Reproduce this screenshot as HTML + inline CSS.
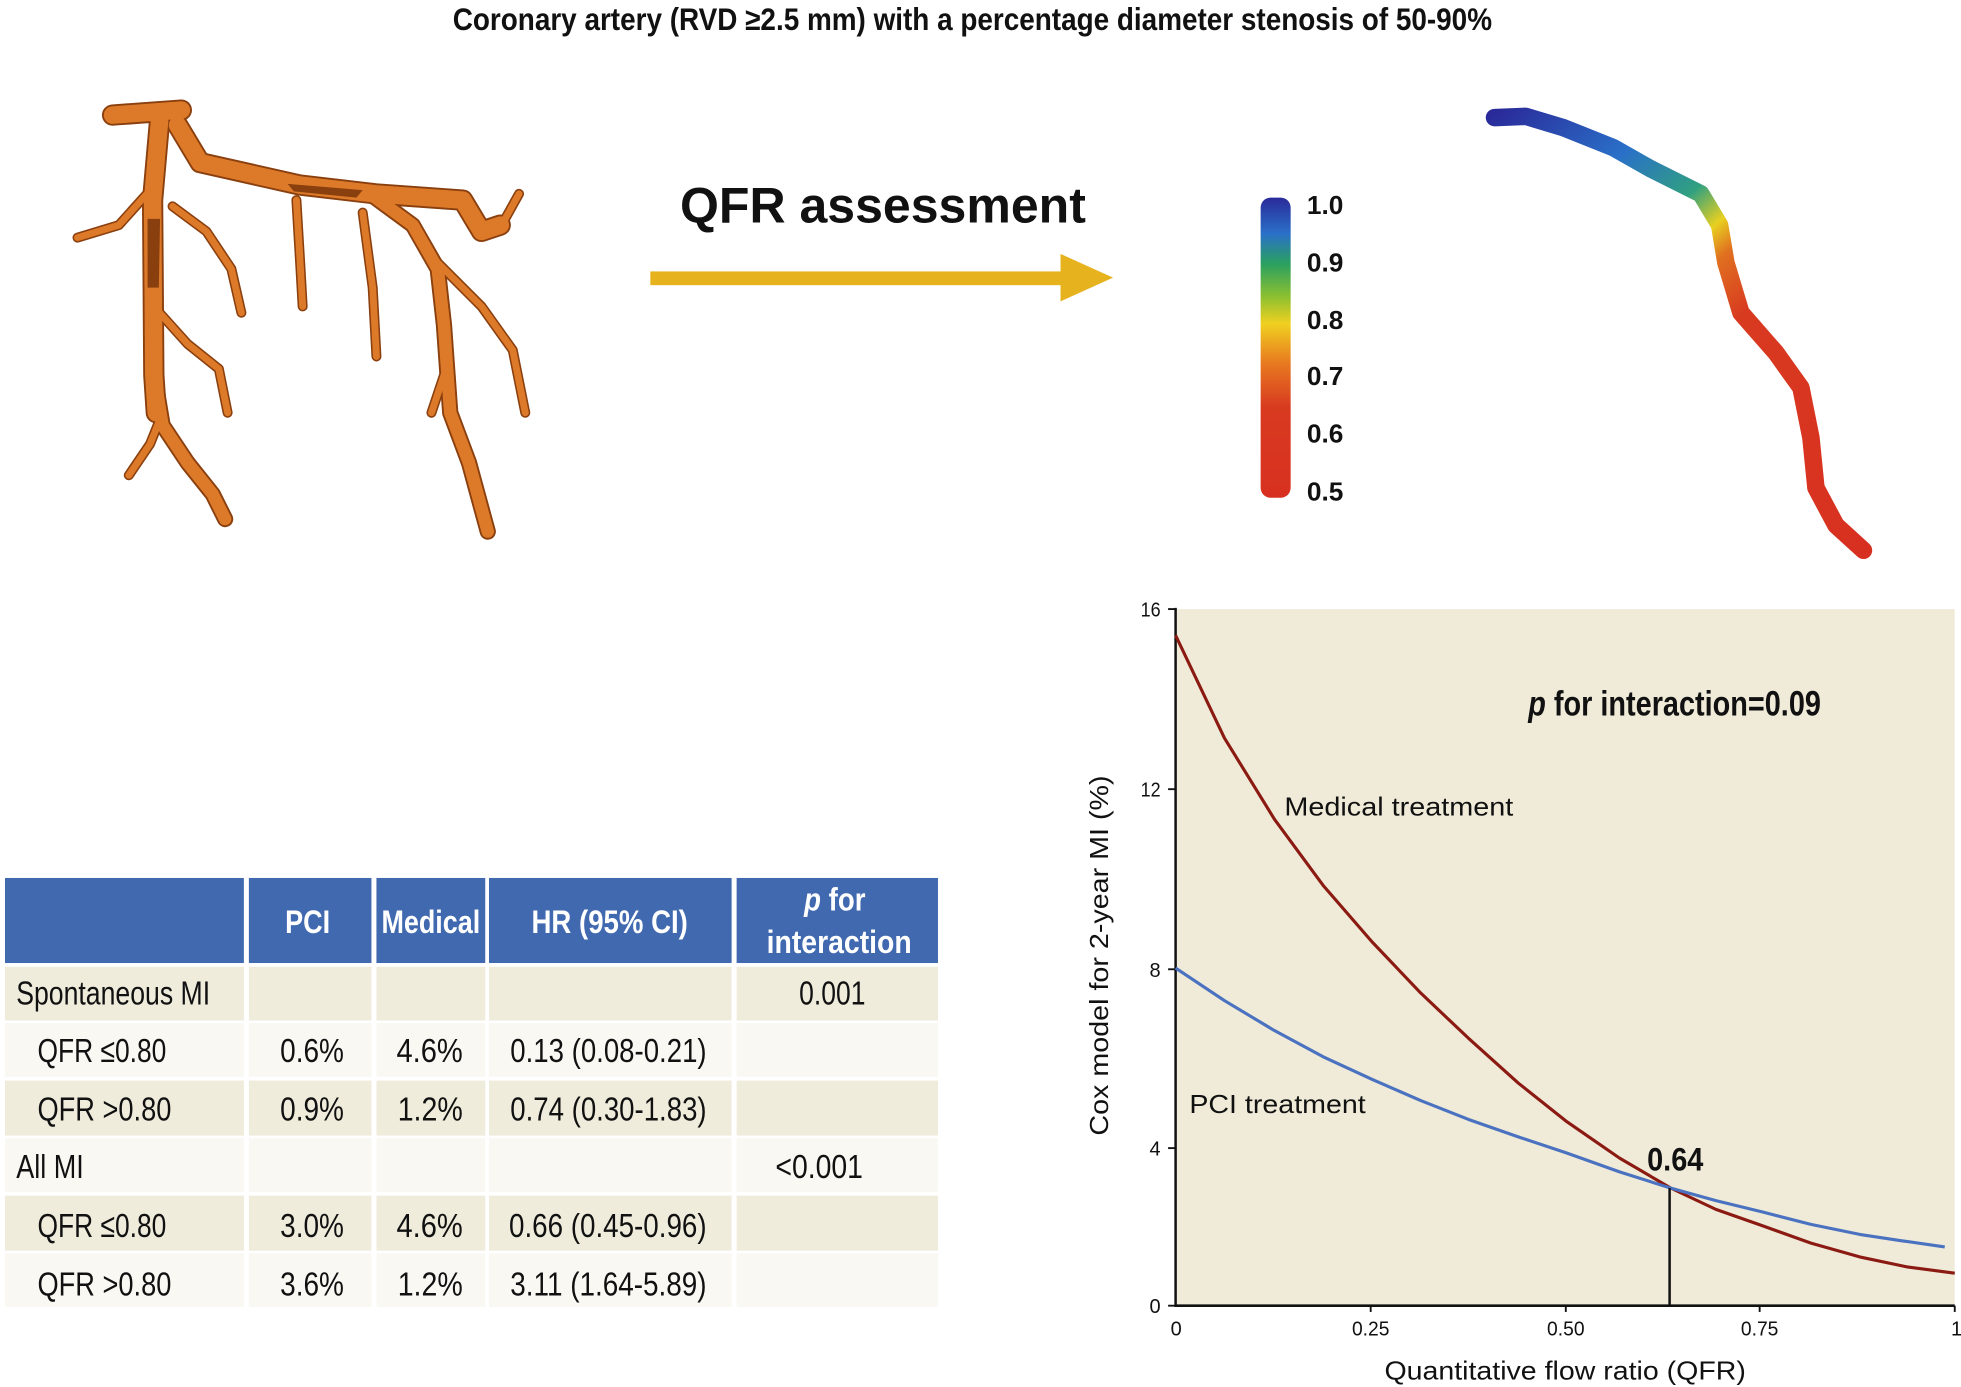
<!DOCTYPE html>
<html><head><meta charset="utf-8"><style>
html,body{margin:0;padding:0;background:#fff;}
svg{display:block;}
.n{font-family:"Liberation Sans",sans-serif;}
.s{font-family:"Liberation Sans","DejaVu Sans",sans-serif;}
</style></head><body>
<svg width="1961" height="1387" viewBox="0 0 1568 1109" xmlns="http://www.w3.org/2000/svg">
<rect width="1568" height="1109" fill="#fff"/>
<text x="362" y="24" textLength="831" lengthAdjust="spacingAndGlyphs" class="n" font-size="25" font-weight="bold" fill="#111">Coronary artery (RVD ≥2.5 mm) with a percentage diameter stenosis of 50-90%</text>

<!-- artery tree -->
<g fill="none" stroke="#8a3f0e" stroke-linecap="round" stroke-linejoin="round">
<g stroke-width="17"><path d="M90,92 L145,88 M128,92 L122,160 L123,300 L125,330"/><path d="M142,100 L160,130 L240,148 L300,155 L370,160 L385,185 L400,180"/></g>
<g stroke-width="13"><path d="M300,158 L330,180 L350,215 L355,260 L360,330 L375,370 L390,425"/><path d="M125,310 L130,340 L150,370 L170,395 L180,415"/></g>
<g stroke-width="8"><path d="M122,150 L95,180 L62,190"/><path d="M138,165 L165,185 L185,215 L193,250"/><path d="M237,160 L240,210 L242,245"/><path d="M290,170 L298,230 L301,285"/><path d="M123,245 L150,275 L175,295 L182,330"/><path d="M130,330 L120,355 L103,380"/><path d="M350,210 L385,245 L410,280 L420,330"/><path d="M355,300 L345,330"/><path d="M400,182 L415,155"/></g>
</g>
<g fill="none" stroke="#dd7a2a" stroke-linecap="round" stroke-linejoin="round">
<g stroke-width="14"><path d="M90,92 L145,88 M128,92 L122,160 L123,300 L125,330"/><path d="M142,100 L160,130 L240,148 L300,155 L370,160 L385,185 L400,180"/></g>
<g stroke-width="10"><path d="M300,158 L330,180 L350,215 L355,260 L360,330 L375,370 L390,425"/><path d="M125,310 L130,340 L150,370 L170,395 L180,415"/></g>
<g stroke-width="5.5"><path d="M122,150 L95,180 L62,190"/><path d="M138,165 L165,185 L185,215 L193,250"/><path d="M237,160 L240,210 L242,245"/><path d="M290,170 L298,230 L301,285"/><path d="M123,245 L150,275 L175,295 L182,330"/><path d="M130,330 L120,355 L103,380"/><path d="M350,210 L385,245 L410,280 L420,330"/><path d="M355,300 L345,330"/><path d="M400,182 L415,155"/></g>
</g>
<path d="M230,147 L290,152 L285,158 L235,153Z" fill="#8a3f0e"/>
<path d="M118,175 L128,175 L127,230 L118,230Z" fill="#8a3f0e"/>

<text x="706" y="178" text-anchor="middle" class="s" font-size="40" font-weight="bold" fill="#111">QFR assessment</text>
<rect x="520" y="217" width="330" height="11" fill="#e6b31e"/>
<polygon points="848,203 890,222 848,241" fill="#e6b31e"/>

<defs>
<linearGradient id="cb" x1="0" y1="0" x2="0" y2="1">
<stop offset="0" stop-color="#2a2a9a"/><stop offset="0.12" stop-color="#2a70c8"/><stop offset="0.22" stop-color="#2aa060"/><stop offset="0.33" stop-color="#8cc030"/><stop offset="0.42" stop-color="#f0d020"/><stop offset="0.55" stop-color="#e87a20"/><stop offset="0.7" stop-color="#d83a20"/><stop offset="1" stop-color="#d83020"/>
</linearGradient>
<linearGradient id="vg" x1="1190" y1="95" x2="1490" y2="440" gradientUnits="userSpaceOnUse">
<stop offset="0" stop-color="#2a2a9a"/><stop offset="0.2" stop-color="#2a70c8"/><stop offset="0.33" stop-color="#30a080"/><stop offset="0.4" stop-color="#e8d020"/><stop offset="0.45" stop-color="#e07020"/><stop offset="0.55" stop-color="#d83a20"/><stop offset="1" stop-color="#d83020"/>
</linearGradient>
</defs>
<rect x="1008" y="158" width="24" height="240" rx="8" fill="url(#cb)"/>
<g class="n" font-size="21" font-weight="bold" fill="#111">
<text x="1045" y="171">1.0</text><text x="1045" y="217">0.9</text><text x="1045" y="263">0.8</text><text x="1045" y="308">0.7</text><text x="1045" y="354">0.6</text><text x="1045" y="400">0.5</text>
</g>
<path d="M1195,94 L1220,93 L1250,102 L1290,118 L1320,135 L1360,155 L1375,180 L1380,210 L1392,250 L1420,282 L1440,310 L1448,350 L1452,390 L1468,420 L1490,440" fill="none" stroke="url(#vg)" stroke-width="14" stroke-linecap="round" stroke-linejoin="round"/>

<!-- table -->
<g>
<rect x="4" y="702" width="191" height="68" fill="#4169b0"/>
<rect x="199" y="702" width="98" height="68" fill="#4169b0"/>
<rect x="301" y="702" width="87" height="68" fill="#4169b0"/>
<rect x="391" y="702" width="194" height="68" fill="#4169b0"/>
<rect x="589" y="702" width="161" height="68" fill="#4169b0"/>
<g fill="#efecdc">
<rect x="4" y="773" width="746" height="43"/><rect x="4" y="864" width="746" height="44"/><rect x="4" y="956" width="746" height="44"/>
</g>
<g fill="#f9f8f3">
<rect x="4" y="818" width="746" height="43"/><rect x="4" y="910" width="746" height="43"/><rect x="4" y="1002" width="746" height="43"/>
</g>
<g fill="#fff">
<rect x="195" y="770" width="4" height="276"/><rect x="297" y="770" width="4" height="276"/><rect x="388" y="770" width="3" height="276"/><rect x="585" y="770" width="4" height="276"/>
</g>
<g class="n" font-size="26" font-weight="bold" fill="#fff" lengthAdjust="spacingAndGlyphs">
<text x="228" y="746" textLength="36" lengthAdjust="spacingAndGlyphs">PCI</text>
<text x="305" y="746" textLength="79" lengthAdjust="spacingAndGlyphs">Medical</text>
<text x="425" y="746" textLength="125" lengthAdjust="spacingAndGlyphs">HR (95% CI)</text>
<text x="643" y="728" textLength="49" lengthAdjust="spacingAndGlyphs"><tspan font-style="italic">p</tspan> for</text>
<text x="613" y="762" textLength="116" lengthAdjust="spacingAndGlyphs">interaction</text>
</g>
<g class="n" font-size="27" fill="#111">
<text x="13" y="803" textLength="155" lengthAdjust="spacingAndGlyphs">Spontaneous MI</text>
<text x="30" y="849" textLength="103" lengthAdjust="spacingAndGlyphs">QFR ≤0.80</text>
<text x="30" y="896" textLength="107" lengthAdjust="spacingAndGlyphs">QFR &gt;0.80</text>
<text x="13" y="942" textLength="54" lengthAdjust="spacingAndGlyphs">All MI</text>
<text x="30" y="989" textLength="103" lengthAdjust="spacingAndGlyphs">QFR ≤0.80</text>
<text x="30" y="1036" textLength="107" lengthAdjust="spacingAndGlyphs">QFR &gt;0.80</text>
<text x="639" y="803" textLength="53" lengthAdjust="spacingAndGlyphs">0.001</text>
<text x="620" y="942" textLength="70" lengthAdjust="spacingAndGlyphs">&lt;0.001</text>
<text x="224" y="849" textLength="51" lengthAdjust="spacingAndGlyphs">0.6%</text>
<text x="317" y="849" textLength="53" lengthAdjust="spacingAndGlyphs">4.6%</text>
<text x="408" y="849" textLength="157" lengthAdjust="spacingAndGlyphs">0.13 (0.08-0.21)</text>
<text x="224" y="896" textLength="51" lengthAdjust="spacingAndGlyphs">0.9%</text>
<text x="318" y="896" textLength="52" lengthAdjust="spacingAndGlyphs">1.2%</text>
<text x="408" y="896" textLength="157" lengthAdjust="spacingAndGlyphs">0.74 (0.30-1.83)</text>
<text x="224" y="989" textLength="51" lengthAdjust="spacingAndGlyphs">3.0%</text>
<text x="317" y="989" textLength="53" lengthAdjust="spacingAndGlyphs">4.6%</text>
<text x="407" y="989" textLength="158" lengthAdjust="spacingAndGlyphs">0.66 (0.45-0.96)</text>
<text x="224" y="1036" textLength="51" lengthAdjust="spacingAndGlyphs">3.6%</text>
<text x="318" y="1036" textLength="52" lengthAdjust="spacingAndGlyphs">1.2%</text>
<text x="408" y="1036" textLength="157" lengthAdjust="spacingAndGlyphs">3.11 (1.64-5.89)</text>
</g>
</g>

<!-- chart -->
<rect x="940" y="487" width="623" height="557" fill="#f0ebd8"/>
<path d="M940,486 V1044 H1563" fill="none" stroke="#111" stroke-width="2"/>
<g stroke="#111" stroke-width="1.5">
<line x1="934" y1="487" x2="940" y2="487"/><line x1="934" y1="631" x2="940" y2="631"/><line x1="934" y1="775" x2="940" y2="775"/><line x1="934" y1="918" x2="940" y2="918"/><line x1="934" y1="1044" x2="940" y2="1044"/>
<line x1="1096" y1="1044" x2="1096" y2="1049"/><line x1="1252" y1="1044" x2="1252" y2="1049"/><line x1="1407" y1="1044" x2="1407" y2="1049"/><line x1="1563" y1="1044" x2="1563" y2="1049"/>
</g>
<g class="n" font-size="16" fill="#111" text-anchor="end">
<text x="928" y="493" textLength="16" lengthAdjust="spacingAndGlyphs">16</text><text x="928" y="637" textLength="16" lengthAdjust="spacingAndGlyphs">12</text><text x="928" y="781">8</text><text x="928" y="924">4</text><text x="928" y="1050">0</text>
</g>
<g class="n" font-size="16" fill="#111">
<text x="936" y="1068">0</text>
<text x="1081" y="1068" textLength="30" lengthAdjust="spacingAndGlyphs">0.25</text>
<text x="1237" y="1068" textLength="30" lengthAdjust="spacingAndGlyphs">0.50</text>
<text x="1392" y="1068" textLength="30" lengthAdjust="spacingAndGlyphs">0.75</text>
<text x="1560" y="1068">1</text>
</g>
<text x="1107" y="1103" textLength="289" lengthAdjust="spacingAndGlyphs" class="s" font-size="21" fill="#111">Quantitative flow ratio (QFR)</text>
<text transform="translate(886,908) rotate(-90)" textLength="288" lengthAdjust="spacingAndGlyphs" class="s" font-size="21" fill="#111">Cox model for 2-year MI (%)</text>
<polyline points="940,508 979,590 1019,655 1058,708 1097,753 1136,794 1174,830 1214,866 1253,897 1295,926 1336,950 1372,967 1409,980 1448,994 1487,1005 1525,1013 1563,1018" fill="none" stroke="#8b1a12" stroke-width="2.5" stroke-linejoin="round"/>
<polyline points="940,774 979,800 1019,824 1058,845 1097,863 1136,880 1174,895 1214,909 1253,922 1295,937 1336,950 1372,960 1409,969 1448,979 1487,987 1520,992 1555,997" fill="none" stroke="#4a72c0" stroke-width="2.5" stroke-linejoin="round"/>
<line x1="1335" y1="950" x2="1335" y2="1044" stroke="#111" stroke-width="2"/>
<text x="1027" y="652" textLength="183" lengthAdjust="spacingAndGlyphs" class="s" font-size="21" fill="#111">Medical treatment</text>
<text x="951" y="890" textLength="141" lengthAdjust="spacingAndGlyphs" class="s" font-size="21" fill="#111">PCI treatment</text>
<text x="1317" y="936" textLength="45" lengthAdjust="spacingAndGlyphs" class="n" font-size="26" font-weight="bold" fill="#111">0.64</text>
<text x="1222" y="572" textLength="234" lengthAdjust="spacingAndGlyphs" class="n" font-size="28" font-weight="bold" fill="#111"><tspan font-style="italic">p</tspan> for interaction=0.09</text>
</svg>
</body></html>
